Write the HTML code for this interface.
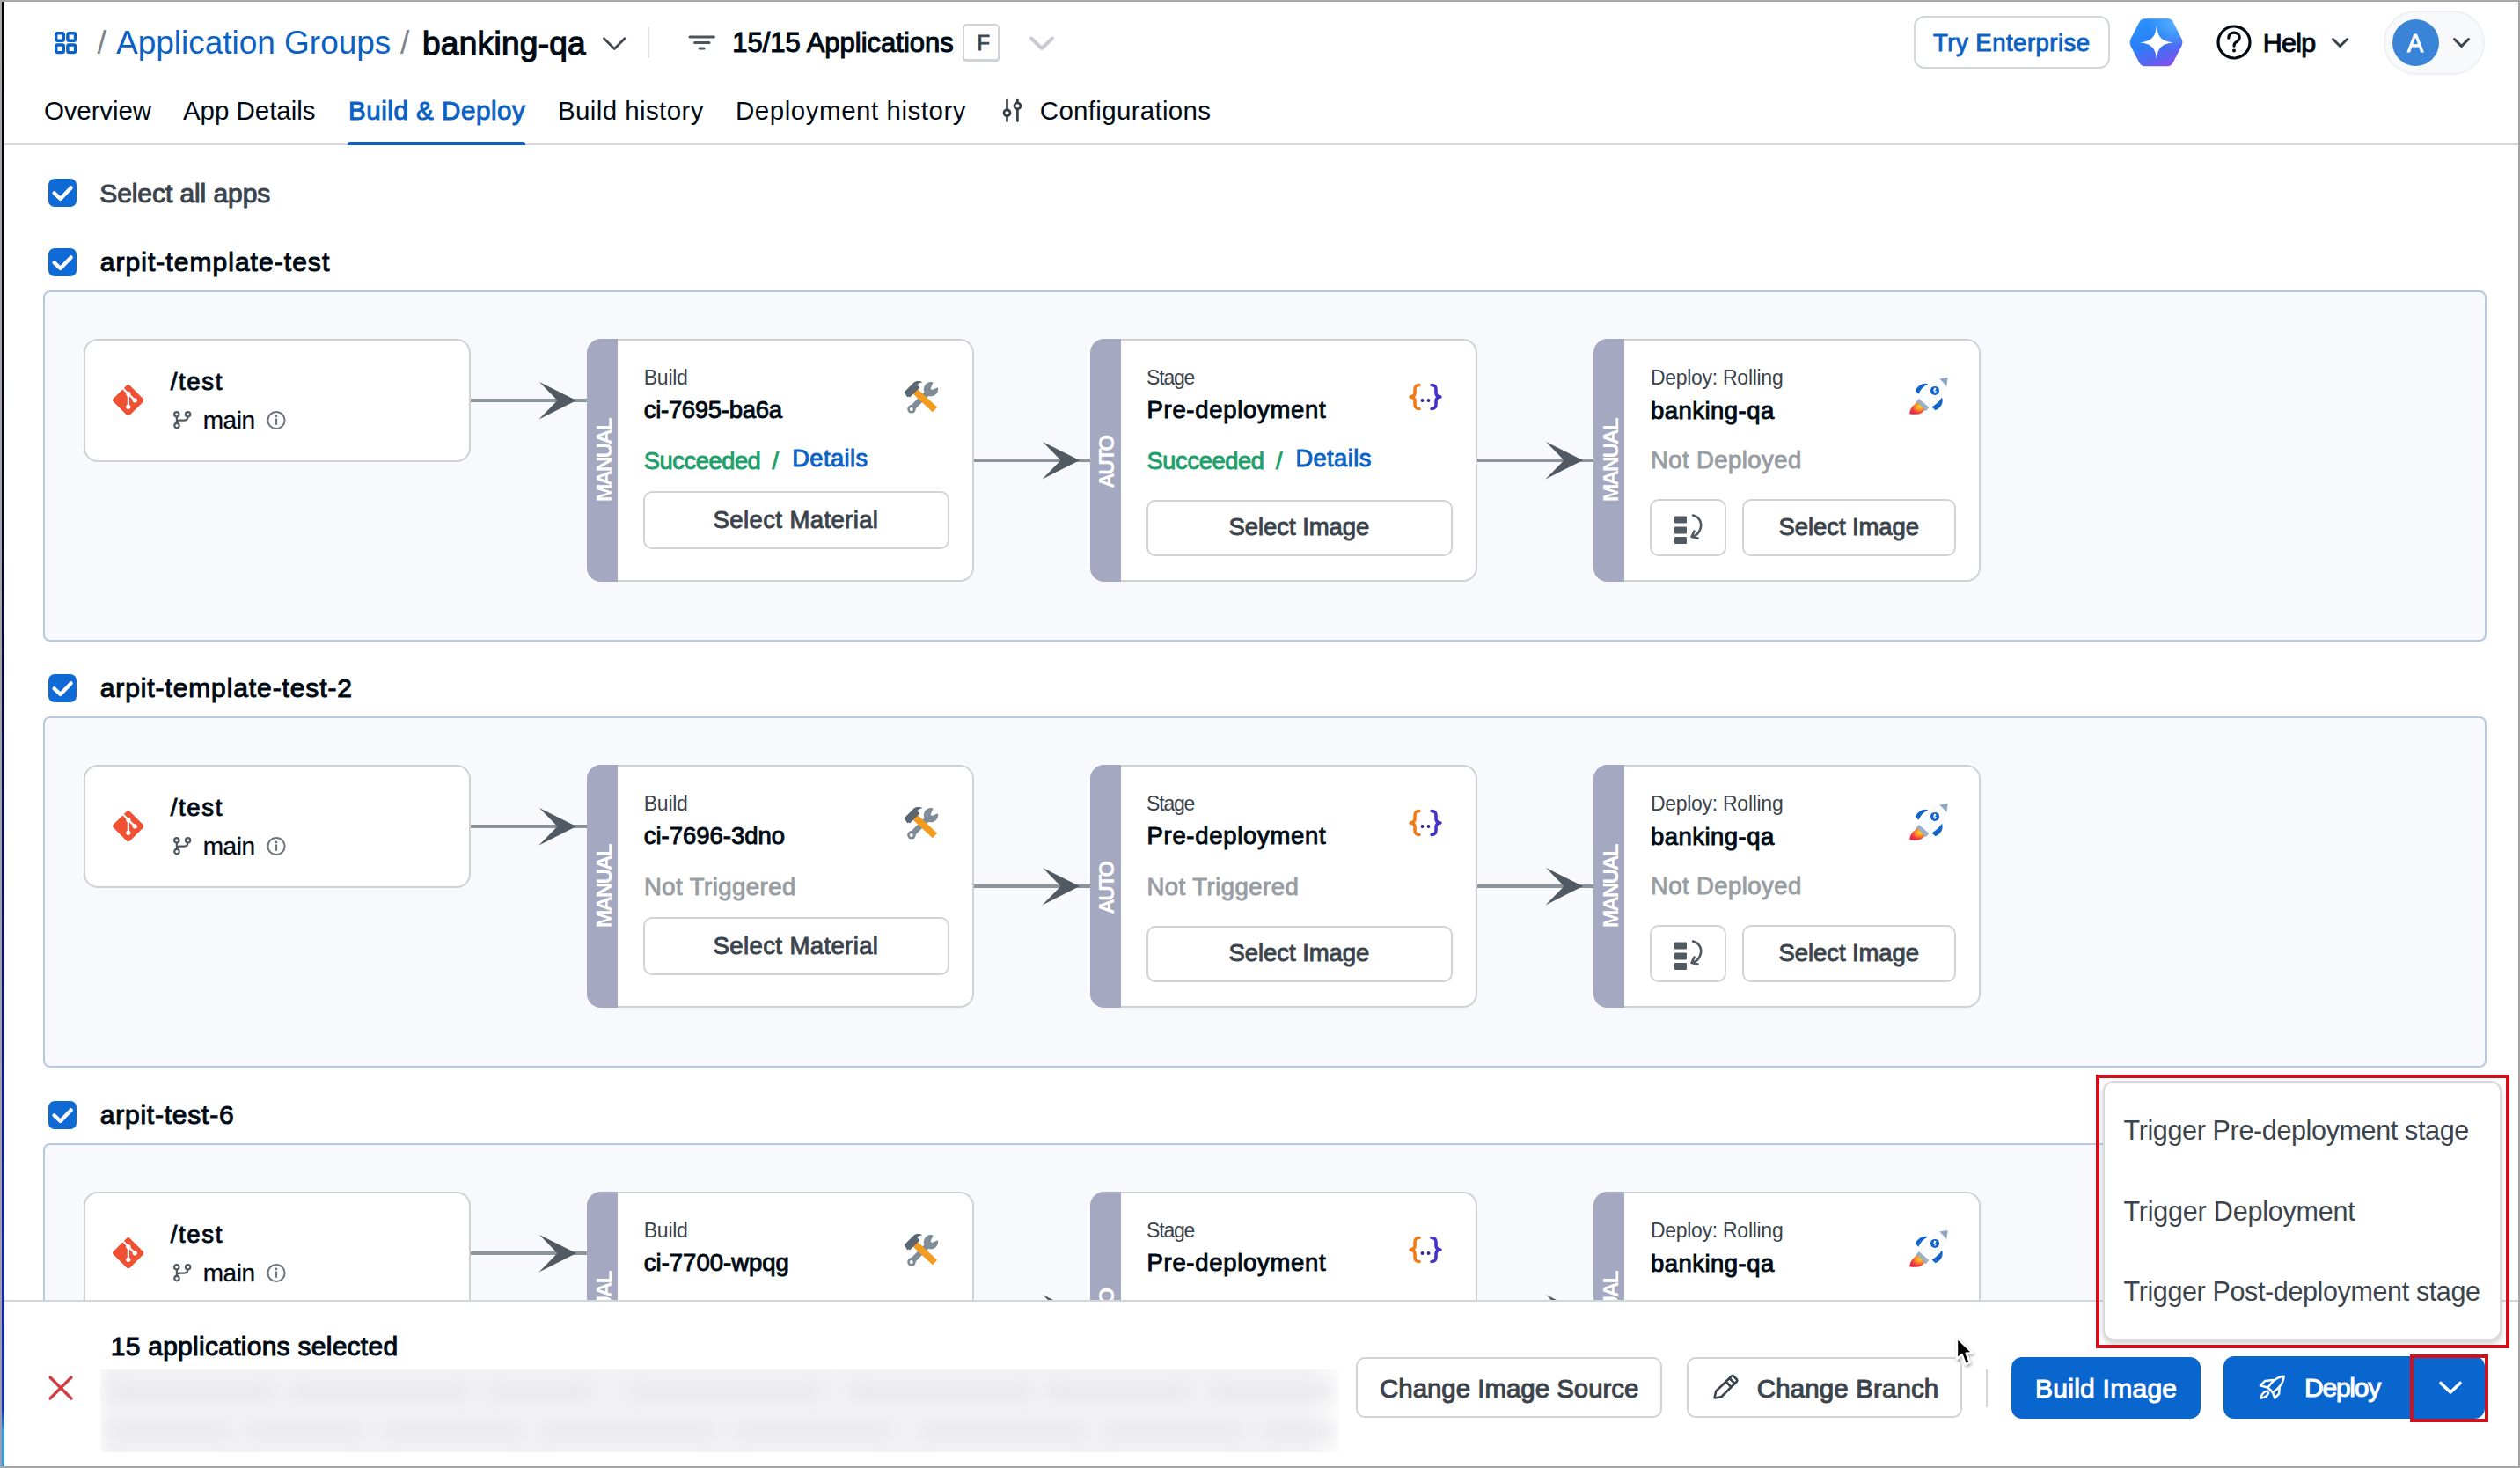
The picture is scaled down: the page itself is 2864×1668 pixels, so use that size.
<!DOCTYPE html>
<html><head><meta charset="utf-8"><title>Build &amp; Deploy</title>
<style>
html,body{margin:0;padding:0}
body{width:2864px;height:1668px;position:relative;overflow:hidden;background:#fff;font-family:"Liberation Sans",sans-serif}
.t{position:absolute;white-space:nowrap;line-height:1}
</style></head><body>
<svg style="position:absolute;left:60.0px;top:34.0px;" width="30" height="30" viewBox="0 0 30 30"><g fill="none" stroke="#0b62c4" stroke-width="3.4"><rect x="3.7" y="3.7" width="8.6" height="8.6" rx="1.6"/><rect x="16.9" y="3.7" width="8.6" height="8.6" rx="1.6"/><rect x="3.7" y="17" width="8.6" height="8.6" rx="1.6"/><rect x="16.9" y="17" width="8.6" height="8.6" rx="1.6"/></g></svg>
<div class="t" style="left:110.50px;top:30.37px;font-size:37.00px;letter-spacing:0.000px;font-weight:400;color:#7e848b;">/</div>
<div class="t" style="left:132.10px;top:30.37px;font-size:37.00px;letter-spacing:-0.024px;font-weight:400;color:#0b62c4;">Application Groups</div>
<div class="t" style="left:455.00px;top:30.37px;font-size:37.00px;letter-spacing:0.000px;font-weight:400;color:#7e848b;">/</div>
<div class="t" style="left:480.00px;top:30.77px;font-size:37.00px;letter-spacing:0.289px;font-weight:400;color:#000a14;-webkit-text-stroke:1.26px #000a14;">banking-qa</div>
<svg style="position:absolute;left:682.0px;top:38.0px;" width="32" height="22" viewBox="0 0 32 22"><polyline points="4.5,5.7 16.3,17.5 28,5.7" fill="none" stroke="#40474f" stroke-width="2.7" stroke-linecap="round" stroke-linejoin="round"/></svg>
<div style="position:absolute;left:736.0px;top:31.0px;width:2.0px;height:34.5px;box-sizing:border-box;background:#d9dadc"></div>
<svg style="position:absolute;left:780.0px;top:38.0px;" width="36" height="22" viewBox="0 0 36 22"><g stroke="#4b535b" stroke-width="3" stroke-linecap="round"><line x1="4" y1="4" x2="31.3" y2="4"/><line x1="9.6" y1="10.6" x2="26" y2="10.6"/><line x1="15" y1="17" x2="20.2" y2="17"/></g></svg>
<div class="t" style="left:832.20px;top:32.55px;font-size:31.00px;letter-spacing:-0.000px;font-weight:400;color:#000a14;-webkit-text-stroke:1.05px #000a14;">15/15 Applications</div>
<div style="position:absolute;left:1094.0px;top:27.0px;width:42.0px;height:44.0px;box-sizing:border-box;border:2px solid #d0d4d9;border-bottom-width:4px;border-radius:5px;background:#fff"></div>
<div class="t" style="left:1110.50px;top:37.35px;font-size:23.80px;letter-spacing:0.000px;font-weight:400;color:#3b444c;-webkit-text-stroke:0.81px #3b444c;">F</div>
<svg style="position:absolute;left:1168.0px;top:38.0px;" width="32" height="22" viewBox="0 0 32 22"><polyline points="4,5.5 16,17 28,5.5" fill="none" stroke="#c8ccd1" stroke-width="4" stroke-linecap="round" stroke-linejoin="round"/></svg>
<div style="position:absolute;left:2175.0px;top:18.0px;width:223.0px;height:60.0px;box-sizing:border-box;border:2px solid #d3d6da;border-radius:12px;background:#fff"></div>
<div class="t" style="left:2197.00px;top:34.62px;font-size:27.50px;letter-spacing:0.500px;font-weight:400;color:#0b62c4;-webkit-text-stroke:0.94px #0b62c4;">Try Enterprise</div>
<svg style="position:absolute;left:2418.0px;top:20.0px;" width="66" height="58" viewBox="0 0 66 58"><defs><linearGradient id="hg" x1="0.25" y1="0" x2="0.75" y2="1"><stop offset="0" stop-color="#2a93ff"/><stop offset="0.45" stop-color="#2a7ef6"/><stop offset="0.8" stop-color="#5b63f2"/><stop offset="1" stop-color="#8a4cf0"/></linearGradient><radialGradient id="hg2" cx="0.85" cy="0.1" r="0.5"><stop offset="0" stop-color="#5ab4ff" stop-opacity="0.9"/><stop offset="1" stop-color="#5ab4ff" stop-opacity="0"/></radialGradient></defs><path d="M19.5,1.3 L45.5,1.3 Q49.5,1.3 51.5,5 L61.6,24.6 Q63.4,28.3 61.6,32 L51.5,51.6 Q49.5,55.3 45.5,55.3 L19.5,55.3 Q15.5,55.3 13.5,51.6 L3.4,32 Q1.6,28.3 3.4,24.6 L13.5,5 Q15.5,1.3 19.5,1.3 Z" fill="url(#hg)"/><path d="M19.5,1.3 L45.5,1.3 Q49.5,1.3 51.5,5 L61.6,24.6 Q63.4,28.3 61.6,32 L51.5,51.6 Q49.5,55.3 45.5,55.3 L19.5,55.3 Q15.5,55.3 13.5,51.6 L3.4,32 Q1.6,28.3 3.4,24.6 L13.5,5 Q15.5,1.3 19.5,1.3 Z" fill="url(#hg2)"/><path d="M33,9 C34.4,21.5 37.5,26.4 52,28.3 C37.5,30.2 34.4,35.2 33,47.6 C31.6,35.2 28.5,30.2 14,28.3 C28.5,26.4 31.6,21.5 33,9 Z" fill="#fff"/></svg>
<svg style="position:absolute;left:2517.0px;top:26.0px;" width="44" height="44" viewBox="0 0 44 44"><circle cx="22" cy="22" r="18" fill="none" stroke="#000a14" stroke-width="3.2"/><path d="M15.8,17.2 C15.8,13.3 18.6,11.2 22,11.2 C25.6,11.2 28.2,13.4 28.2,16.6 C28.2,19.6 26,20.8 24.2,22 C22.6,23 22,24 22,26.2" fill="none" stroke="#000a14" stroke-width="3.2" stroke-linecap="round"/><circle cx="22" cy="31.6" r="2" fill="#000a14"/></svg>
<div class="t" style="left:2571.80px;top:33.36px;font-size:30.40px;letter-spacing:-0.700px;font-weight:400;color:#000a14;-webkit-text-stroke:1.03px #000a14;">Help</div>
<svg style="position:absolute;left:2648.0px;top:40.0px;" width="24" height="18" viewBox="0 0 24 18"><polyline points="3.5,4.5 11.5,12.5 19.5,4.5" fill="none" stroke="#3b444c" stroke-width="3" stroke-linecap="round" stroke-linejoin="round"/></svg>
<div style="position:absolute;left:2709.0px;top:12.0px;width:115.0px;height:73.0px;box-sizing:border-box;border:2px solid #eef0f3;border-radius:37px;background:#f8f9fb"></div>
<div style="position:absolute;left:2719px;top:22px;width:53px;height:53px;border-radius:50%;background:#3a84d8"></div>
<div class="t" style="left:2736.40px;top:33.36px;font-size:30.40px;letter-spacing:0.000px;font-weight:400;color:#fff;-webkit-text-stroke:1.03px #fff;transform:scaleX(0.9);transform-origin:0 0;">A</div>
<svg style="position:absolute;left:2786.0px;top:40.0px;" width="24" height="18" viewBox="0 0 24 18"><polyline points="3.5,4.5 11.5,12.5 19.5,4.5" fill="none" stroke="#3b444c" stroke-width="3" stroke-linecap="round" stroke-linejoin="round"/></svg>
<div class="t" style="left:49.90px;top:110.72px;font-size:29.50px;letter-spacing:-0.114px;font-weight:400;color:#000a14;">Overview</div>
<div class="t" style="left:207.90px;top:110.72px;font-size:29.50px;letter-spacing:-0.020px;font-weight:400;color:#000a14;">App Details</div>
<div class="t" style="left:396.00px;top:110.72px;font-size:29.50px;letter-spacing:0.554px;font-weight:400;color:#0b62c4;-webkit-text-stroke:1.00px #0b62c4;">Build &amp; Deploy</div>
<div class="t" style="left:633.90px;top:110.72px;font-size:29.50px;letter-spacing:0.408px;font-weight:400;color:#000a14;">Build history</div>
<div class="t" style="left:836.00px;top:110.72px;font-size:29.50px;letter-spacing:0.535px;font-weight:400;color:#000a14;">Deployment history</div>
<svg style="position:absolute;left:1138.0px;top:110.0px;" width="26" height="30" viewBox="0 0 26 30"><g stroke="#363f47" stroke-width="2.7" stroke-linecap="round" fill="none"><line x1="6.5" y1="3.2" x2="6.5" y2="14.8"/><line x1="6.5" y1="21.8" x2="6.5" y2="27.6"/><circle cx="6.5" cy="18.3" r="3.5"/><line x1="18.4" y1="3.2" x2="18.4" y2="6.9"/><line x1="18.4" y1="13.9" x2="18.4" y2="27.6"/><circle cx="18.4" cy="10.4" r="3.5"/></g></svg>
<div class="t" style="left:1181.80px;top:110.72px;font-size:29.50px;letter-spacing:0.308px;font-weight:400;color:#000a14;">Configurations</div>
<div style="position:absolute;left:0.0px;top:163.0px;width:2864.0px;height:2.0px;box-sizing:border-box;background:#d3d6da"></div>
<div style="position:absolute;left:395.0px;top:161.0px;width:202.0px;height:4.0px;box-sizing:border-box;background:#0b62c4;border-radius:3px 3px 0 0"></div>
<div style="position:absolute;left:55px;top:203px;width:32px;height:32px;border-radius:7px;background:#0f6ad6"></div>
<svg style="position:absolute;left:55.0px;top:203.0px;" width="32" height="32" viewBox="0 0 32 32"><polyline points="6.6,16.4 13.6,22.9 25.6,10.4" fill="none" stroke="#fff" stroke-width="4.3" stroke-linecap="round" stroke-linejoin="round"/></svg>
<div class="t" style="left:113.20px;top:204.50px;font-size:30.00px;letter-spacing:-0.071px;font-weight:400;color:#3b444c;-webkit-text-stroke:1.02px #3b444c;">Select all apps</div>
<div style="position:absolute;left:55px;top:282px;width:32px;height:32px;border-radius:7px;background:#0f6ad6"></div>
<svg style="position:absolute;left:55.0px;top:282.0px;" width="32" height="32" viewBox="0 0 32 32"><polyline points="6.6,16.4 13.6,22.9 25.6,10.4" fill="none" stroke="#fff" stroke-width="4.3" stroke-linecap="round" stroke-linejoin="round"/></svg>
<div class="t" style="left:113.70px;top:283.30px;font-size:30.00px;letter-spacing:1.044px;font-weight:400;color:#000a14;-webkit-text-stroke:1.02px #000a14;">arpit-template-test</div>
<div style="position:absolute;left:49.0px;top:330.0px;width:2777.0px;height:399.0px;box-sizing:border-box;border:2px solid #b7c9e0;border-radius:8px;background:#f8f9fc"></div>
<div style="position:absolute;left:95.0px;top:385.0px;width:440.0px;height:140.0px;box-sizing:border-box;border:2px solid #d0d1d4;border-radius:16px;background:#fff"></div>
<svg style="position:absolute;left:127.5px;top:436.8px;" width="35.5" height="35.5" viewBox="0 0 24 24"><path fill="#f05133" d="M23.546 10.93L13.067.452c-.604-.603-1.582-.603-2.188 0L8.708 2.627l2.76 2.76c.645-.215 1.379-.07 1.889.441.516.515.658 1.258.438 1.9l2.658 2.66c.645-.223 1.387-.078 1.9.435.721.72.721 1.884 0 2.604-.719.719-1.881.719-2.6 0-.539-.541-.674-1.337-.404-1.996L12.86 8.955v6.525c.176.086.342.203.488.348.713.721.713 1.883 0 2.6-.719.721-1.889.721-2.609 0-.719-.719-.719-1.879 0-2.598.182-.18.387-.316.605-.406V8.835c-.217-.091-.424-.222-.6-.401-.545-.545-.676-1.342-.396-2.009L7.636 3.7.45 10.881c-.6.605-.6 1.584 0 2.189l10.48 10.477c.604.604 1.582.604 2.186 0l10.43-10.43c.605-.603.605-1.582 0-2.187"/></svg>
<div class="t" style="left:193.70px;top:419.52px;font-size:27.50px;letter-spacing:1.675px;font-weight:400;color:#000a14;-webkit-text-stroke:0.94px #000a14;">/test</div>
<svg style="position:absolute;left:195.0px;top:465.0px;" width="25" height="25" viewBox="0 0 25 25"><g fill="none" stroke="#515963" stroke-width="2.2" stroke-linecap="round"><circle cx="5.8" cy="5.8" r="2.7"/><circle cx="18.6" cy="5.8" r="2.7"/><circle cx="6" cy="18.6" r="2.7"/><line x1="5.9" y1="8.5" x2="5.9" y2="15.9"/><path d="M18.4,8.5 C18.4,11.2 17.2,12.6 14.4,12.6 L9.6,12.6 C7.4,12.6 6,13.2 5.9,14.6"/></g></svg>
<div class="t" style="left:230.80px;top:463.69px;font-size:28.00px;letter-spacing:-0.500px;font-weight:400;color:#000a14;-webkit-text-stroke:0.3px #000a14;">main</div>
<svg style="position:absolute;left:302.0px;top:466.0px;" width="24" height="24" viewBox="0 0 24 24"><circle cx="12" cy="11.5" r="9.6" fill="none" stroke="#6e757c" stroke-width="2"/><line x1="12" y1="10.3" x2="12" y2="16" stroke="#6e757c" stroke-width="2.2" stroke-linecap="round"/><circle cx="12" cy="6.9" r="1.4" fill="#6e757c"/></svg>
<div style="position:absolute;left:535.0px;top:453.0px;width:132.0px;height:4.0px;box-sizing:border-box;background:#8d939b"></div>
<svg style="position:absolute;left:611.0px;top:433.0px;" width="46" height="44" viewBox="0 0 46 44"><path d="M44,22 L2,1 L22.5,22 L1.5,43.5 Z" fill="#515963"/></svg>
<div style="position:absolute;left:667.0px;top:385.0px;width:440.0px;height:276.0px;box-sizing:border-box;border:2px solid #d0d1d4;border-radius:16px;background:#fff"></div>
<div style="position:absolute;left:667px;top:385px;width:35px;height:276px;background:#a5a8c1;border-radius:16px 0 0 16px"></div>
<div class="t" style="left:638.50px;top:510.40px;width:95.60px;height:24.40px;font-size:24.40px;letter-spacing:-2.020px;font-weight:700;color:#fff;text-align:left;transform:rotate(-90deg);transform-origin:center center;line-height:23.67px">MANUAL</div>
<div class="t" style="left:731.80px;top:417.53px;font-size:23.00px;letter-spacing:-0.275px;font-weight:400;color:#3b444c;">Build</div>
<div class="t" style="left:731.80px;top:452.12px;font-size:27.50px;letter-spacing:-0.309px;font-weight:400;color:#000a14;-webkit-text-stroke:0.94px #000a14;">ci-7695-ba6a</div>
<svg style="position:absolute;left:1020.0px;top:425.0px;" width="55" height="50" viewBox="0 0 55 50"><g stroke-linecap="round"><line x1="16.5" y1="39" x2="36" y2="19.5" stroke="#7f8c98" stroke-width="6.6"/><circle cx="16" cy="39.8" r="4.8" fill="#7f8c98"/><circle cx="15.8" cy="40" r="1.9" fill="#fff"/><circle cx="38" cy="17.2" r="8.2" fill="#7f8c98"/><path d="M37.6,16.6 L41.5,7.2 L48.5,14.2 L39,18 Z" fill="#fff"/><line x1="19.8" y1="19.4" x2="42.5" y2="40.5" stroke="#f39b1f" stroke-width="7.6" stroke-linecap="butt"/><path d="M7.6,20.6 L19.2,9 C21.5,7.6 25.5,7.4 28.6,9.2 C25.6,9.6 23.8,10.6 22.6,12.4 L25.4,15.2 L14,26.6 L12.8,25.4 L11.2,26.2 Z" fill="#5a6773"/></g></svg>
<div class="t" style="left:731.80px;top:509.59px;font-size:27.30px;letter-spacing:-0.450px;font-weight:400;color:#21a06c;-webkit-text-stroke:0.93px #21a06c;">Succeeded</div>
<div class="t" style="left:877.60px;top:509.59px;font-size:27.30px;letter-spacing:0.000px;font-weight:400;color:#21a06c;-webkit-text-stroke:0.93px #21a06c;">/</div>
<div class="t" style="left:900.20px;top:506.59px;font-size:27.30px;letter-spacing:0.433px;font-weight:400;color:#0b62c4;-webkit-text-stroke:0.93px #0b62c4;">Details</div>
<div style="position:absolute;left:731.0px;top:558.0px;width:348.0px;height:66.0px;box-sizing:border-box;border:2px solid #d2d3d5;border-radius:10px;background:#fff"></div>
<div class="t" style="left:810.60px;top:577.32px;font-size:27.50px;letter-spacing:0.393px;font-weight:400;color:#3b444c;-webkit-text-stroke:0.94px #3b444c;">Select Material</div>
<div style="position:absolute;left:1107.0px;top:521.0px;width:132.0px;height:4.0px;box-sizing:border-box;background:#8d939b"></div>
<svg style="position:absolute;left:1183.0px;top:501.0px;" width="46" height="44" viewBox="0 0 46 44"><path d="M44,22 L2,1 L22.5,22 L1.5,43.5 Z" fill="#515963"/></svg>
<div style="position:absolute;left:1239.0px;top:385.0px;width:440.0px;height:276.0px;box-sizing:border-box;border:2px solid #d0d1d4;border-radius:16px;background:#fff"></div>
<div style="position:absolute;left:1239px;top:385px;width:35px;height:276px;background:#a5a8c1;border-radius:16px 0 0 16px"></div>
<div class="t" style="left:1227.80px;top:511.80px;width:61.00px;height:24.40px;font-size:24.40px;letter-spacing:-2.567px;font-weight:700;color:#fff;text-align:left;transform:rotate(-90deg);transform-origin:center center;line-height:23.67px">AUTO</div>
<div class="t" style="left:1303.00px;top:417.63px;font-size:23.00px;letter-spacing:-1.175px;font-weight:400;color:#3b444c;">Stage</div>
<div class="t" style="left:1303.50px;top:452.32px;font-size:27.50px;letter-spacing:0.692px;font-weight:400;color:#000a14;-webkit-text-stroke:0.94px #000a14;">Pre-deployment</div>
<svg style="position:absolute;left:1600.0px;top:435.0px;" width="40" height="32" viewBox="0 0 40 32"><path d="M13,2.5 C8.5,2.5 8,4.5 8,8 L8,11.5 C8,14 6.5,15.5 3,16 C6.5,16.5 8,18 8,20.5 L8,24 C8,27.5 8.5,29.5 13,29.5" fill="none" stroke="#f07a18" stroke-width="3.6" stroke-linecap="round" stroke-linejoin="round"/><path d="M27,2.5 C31.5,2.5 32,4.5 32,8 L32,11.5 C32,14 33.5,15.5 37,16 C33.5,16.5 32,18 32,20.5 L32,24 C32,27.5 31.5,29.5 27,29.5" fill="none" stroke="#4234c8" stroke-width="3.6" stroke-linecap="round" stroke-linejoin="round"/><circle cx="16.5" cy="20" r="1.9" fill="#2d2594"/><circle cx="23.5" cy="20" r="1.9" fill="#2d2594"/></svg>
<div class="t" style="left:1303.50px;top:509.59px;font-size:27.30px;letter-spacing:-0.387px;font-weight:400;color:#21a06c;-webkit-text-stroke:0.93px #21a06c;">Succeeded</div>
<div class="t" style="left:1450.00px;top:509.59px;font-size:27.30px;letter-spacing:0.000px;font-weight:400;color:#21a06c;-webkit-text-stroke:0.93px #21a06c;">/</div>
<div class="t" style="left:1472.40px;top:506.59px;font-size:27.30px;letter-spacing:0.417px;font-weight:400;color:#0b62c4;-webkit-text-stroke:0.93px #0b62c4;">Details</div>
<div style="position:absolute;left:1303.0px;top:568.0px;width:348.0px;height:64.0px;box-sizing:border-box;border:2px solid #d2d3d5;border-radius:10px;background:#fff"></div>
<div class="t" style="left:1396.40px;top:585.42px;font-size:27.50px;letter-spacing:-0.045px;font-weight:400;color:#3b444c;-webkit-text-stroke:0.94px #3b444c;">Select Image</div>
<div style="position:absolute;left:1679.0px;top:521.0px;width:132.0px;height:4.0px;box-sizing:border-box;background:#8d939b"></div>
<svg style="position:absolute;left:1755.0px;top:501.0px;" width="46" height="44" viewBox="0 0 46 44"><path d="M44,22 L2,1 L22.5,22 L1.5,43.5 Z" fill="#515963"/></svg>
<div style="position:absolute;left:1811.0px;top:385.0px;width:440.0px;height:276.0px;box-sizing:border-box;border:2px solid #d0d1d4;border-radius:16px;background:#fff"></div>
<div style="position:absolute;left:1811px;top:385px;width:35px;height:276px;background:#a5a8c1;border-radius:16px 0 0 16px"></div>
<div class="t" style="left:1782.50px;top:510.40px;width:95.60px;height:24.40px;font-size:24.40px;letter-spacing:-2.020px;font-weight:700;color:#fff;text-align:left;transform:rotate(-90deg);transform-origin:center center;line-height:23.67px">MANUAL</div>
<div class="t" style="left:1875.90px;top:417.83px;font-size:23.00px;letter-spacing:-0.279px;font-weight:400;color:#3b444c;">Deploy: Rolling</div>
<div class="t" style="left:1875.90px;top:452.92px;font-size:27.50px;letter-spacing:0.478px;font-weight:400;color:#000a14;-webkit-text-stroke:0.94px #000a14;">banking-qa</div>
<svg style="position:absolute;left:2160.0px;top:420.0px;" width="65" height="60" viewBox="0 0 65 60"><defs><radialGradient id="fl" cx="0.68" cy="0.35" r="0.7"><stop offset="0" stop-color="#ffd21f"/><stop offset="0.35" stop-color="#ff9a2a"/><stop offset="0.7" stop-color="#f0463f"/><stop offset="1" stop-color="#e42a48"/></radialGradient></defs><path d="M20,36 C24,27 33,17 44.5,10.5 L53.6,9 L52.3,18.8 C46,30 36,39 27.5,43 Z" fill="#fbfcfd" stroke="#e9edf2" stroke-width="0.8"/><path d="M44.4,10.6 L53.6,9 L52.3,18.8 Z" fill="#8ea7c3"/><circle cx="39" cy="23.9" r="5" fill="#1162c9"/><path d="M38.2,20.6 L40.6,21.2 L39.2,24 L41.2,24.6 L38.4,27.6 L38.8,24.8 L37,24.4 Z" fill="#eaf3ff"/><path d="M16.8,23.7 C20.5,17.5 25.5,14.6 31.5,16.4 C26.5,18.2 23,22.2 20.4,27.8 Z" fill="#1565c8"/><path d="M35.6,42.5 C41,38.6 45,35.5 47,31.5 C49,37.5 46.5,43 39.6,46.2 Z" fill="#1565c8"/><line x1="19" y1="35" x2="30.5" y2="45.2" stroke="#9dafc2" stroke-width="5.6"/><path d="M10.2,50.3 C10.8,44.5 13.5,40.2 19.2,37.4 L27.4,45.4 C24.8,50 19.5,51.8 10.2,50.3 Z" fill="url(#fl)"/></svg>
<div class="t" style="left:1875.90px;top:509.22px;font-size:27.50px;letter-spacing:0.436px;font-weight:400;color:#989ea4;-webkit-text-stroke:0.94px #989ea4;">Not Deployed</div>
<div style="position:absolute;left:1875.0px;top:567.0px;width:87.0px;height:65.0px;box-sizing:border-box;border:2px solid #d2d3d5;border-radius:10px;background:#fff"></div>
<svg style="position:absolute;left:1900.0px;top:582.0px;" width="40" height="38" viewBox="0 0 40 38"><g fill="#515963"><rect x="3" y="4.5" width="14" height="8" rx="1.2"/><rect x="3" y="16.5" width="14" height="8" rx="1.2"/><rect x="3" y="28" width="14" height="8" rx="1.2"/></g><path d="M24,3.5 C32,5.5 35,13 32,20 C30.5,24 27.5,26.5 24,27.5" fill="none" stroke="#515963" stroke-width="2.6" stroke-linecap="round"/><path d="M29.5,29.5 L22.5,28 L25.5,21.5" fill="none" stroke="#515963" stroke-width="2.6" stroke-linecap="round" stroke-linejoin="round"/></svg>
<div style="position:absolute;left:1980.0px;top:567.0px;width:243.0px;height:65.0px;box-sizing:border-box;border:2px solid #d2d3d5;border-radius:10px;background:#fff"></div>
<div class="t" style="left:2021.60px;top:585.42px;font-size:27.50px;letter-spacing:-0.100px;font-weight:400;color:#3b444c;-webkit-text-stroke:0.94px #3b444c;">Select Image</div>
<div style="position:absolute;left:55px;top:766px;width:32px;height:32px;border-radius:7px;background:#0f6ad6"></div>
<svg style="position:absolute;left:55.0px;top:766.0px;" width="32" height="32" viewBox="0 0 32 32"><polyline points="6.6,16.4 13.6,22.9 25.6,10.4" fill="none" stroke="#fff" stroke-width="4.3" stroke-linecap="round" stroke-linejoin="round"/></svg>
<div class="t" style="left:113.70px;top:767.30px;font-size:30.00px;letter-spacing:0.895px;font-weight:400;color:#000a14;-webkit-text-stroke:1.02px #000a14;">arpit-template-test-2</div>
<div style="position:absolute;left:49.0px;top:814.0px;width:2777.0px;height:399.0px;box-sizing:border-box;border:2px solid #b7c9e0;border-radius:8px;background:#f8f9fc"></div>
<div style="position:absolute;left:95.0px;top:869.0px;width:440.0px;height:140.0px;box-sizing:border-box;border:2px solid #d0d1d4;border-radius:16px;background:#fff"></div>
<svg style="position:absolute;left:127.5px;top:920.8px;" width="35.5" height="35.5" viewBox="0 0 24 24"><path fill="#f05133" d="M23.546 10.93L13.067.452c-.604-.603-1.582-.603-2.188 0L8.708 2.627l2.76 2.76c.645-.215 1.379-.07 1.889.441.516.515.658 1.258.438 1.9l2.658 2.66c.645-.223 1.387-.078 1.9.435.721.72.721 1.884 0 2.604-.719.719-1.881.719-2.6 0-.539-.541-.674-1.337-.404-1.996L12.86 8.955v6.525c.176.086.342.203.488.348.713.721.713 1.883 0 2.6-.719.721-1.889.721-2.609 0-.719-.719-.719-1.879 0-2.598.182-.18.387-.316.605-.406V8.835c-.217-.091-.424-.222-.6-.401-.545-.545-.676-1.342-.396-2.009L7.636 3.7.45 10.881c-.6.605-.6 1.584 0 2.189l10.48 10.477c.604.604 1.582.604 2.186 0l10.43-10.43c.605-.603.605-1.582 0-2.187"/></svg>
<div class="t" style="left:193.70px;top:903.52px;font-size:27.50px;letter-spacing:1.675px;font-weight:400;color:#000a14;-webkit-text-stroke:0.94px #000a14;">/test</div>
<svg style="position:absolute;left:195.0px;top:949.0px;" width="25" height="25" viewBox="0 0 25 25"><g fill="none" stroke="#515963" stroke-width="2.2" stroke-linecap="round"><circle cx="5.8" cy="5.8" r="2.7"/><circle cx="18.6" cy="5.8" r="2.7"/><circle cx="6" cy="18.6" r="2.7"/><line x1="5.9" y1="8.5" x2="5.9" y2="15.9"/><path d="M18.4,8.5 C18.4,11.2 17.2,12.6 14.4,12.6 L9.6,12.6 C7.4,12.6 6,13.2 5.9,14.6"/></g></svg>
<div class="t" style="left:230.80px;top:947.69px;font-size:28.00px;letter-spacing:-0.500px;font-weight:400;color:#000a14;-webkit-text-stroke:0.3px #000a14;">main</div>
<svg style="position:absolute;left:302.0px;top:950.0px;" width="24" height="24" viewBox="0 0 24 24"><circle cx="12" cy="11.5" r="9.6" fill="none" stroke="#6e757c" stroke-width="2"/><line x1="12" y1="10.3" x2="12" y2="16" stroke="#6e757c" stroke-width="2.2" stroke-linecap="round"/><circle cx="12" cy="6.9" r="1.4" fill="#6e757c"/></svg>
<div style="position:absolute;left:535.0px;top:937.0px;width:132.0px;height:4.0px;box-sizing:border-box;background:#8d939b"></div>
<svg style="position:absolute;left:611.0px;top:917.0px;" width="46" height="44" viewBox="0 0 46 44"><path d="M44,22 L2,1 L22.5,22 L1.5,43.5 Z" fill="#515963"/></svg>
<div style="position:absolute;left:667.0px;top:869.0px;width:440.0px;height:276.0px;box-sizing:border-box;border:2px solid #d0d1d4;border-radius:16px;background:#fff"></div>
<div style="position:absolute;left:667px;top:869px;width:35px;height:276px;background:#a5a8c1;border-radius:16px 0 0 16px"></div>
<div class="t" style="left:638.50px;top:994.40px;width:95.60px;height:24.40px;font-size:24.40px;letter-spacing:-2.020px;font-weight:700;color:#fff;text-align:left;transform:rotate(-90deg);transform-origin:center center;line-height:23.67px">MANUAL</div>
<div class="t" style="left:731.80px;top:901.53px;font-size:23.00px;letter-spacing:-0.275px;font-weight:400;color:#3b444c;">Build</div>
<div class="t" style="left:731.80px;top:936.12px;font-size:27.50px;letter-spacing:-0.027px;font-weight:400;color:#000a14;-webkit-text-stroke:0.94px #000a14;">ci-7696-3dno</div>
<svg style="position:absolute;left:1020.0px;top:909.0px;" width="55" height="50" viewBox="0 0 55 50"><g stroke-linecap="round"><line x1="16.5" y1="39" x2="36" y2="19.5" stroke="#7f8c98" stroke-width="6.6"/><circle cx="16" cy="39.8" r="4.8" fill="#7f8c98"/><circle cx="15.8" cy="40" r="1.9" fill="#fff"/><circle cx="38" cy="17.2" r="8.2" fill="#7f8c98"/><path d="M37.6,16.6 L41.5,7.2 L48.5,14.2 L39,18 Z" fill="#fff"/><line x1="19.8" y1="19.4" x2="42.5" y2="40.5" stroke="#f39b1f" stroke-width="7.6" stroke-linecap="butt"/><path d="M7.6,20.6 L19.2,9 C21.5,7.6 25.5,7.4 28.6,9.2 C25.6,9.6 23.8,10.6 22.6,12.4 L25.4,15.2 L14,26.6 L12.8,25.4 L11.2,26.2 Z" fill="#5a6773"/></g></svg>
<div class="t" style="left:732.00px;top:993.72px;font-size:27.50px;letter-spacing:0.475px;font-weight:400;color:#989ea4;-webkit-text-stroke:0.94px #989ea4;">Not Triggered</div>
<div style="position:absolute;left:731.0px;top:1042.0px;width:348.0px;height:66.0px;box-sizing:border-box;border:2px solid #d2d3d5;border-radius:10px;background:#fff"></div>
<div class="t" style="left:810.60px;top:1061.32px;font-size:27.50px;letter-spacing:0.393px;font-weight:400;color:#3b444c;-webkit-text-stroke:0.94px #3b444c;">Select Material</div>
<div style="position:absolute;left:1107.0px;top:1005.0px;width:132.0px;height:4.0px;box-sizing:border-box;background:#8d939b"></div>
<svg style="position:absolute;left:1183.0px;top:985.0px;" width="46" height="44" viewBox="0 0 46 44"><path d="M44,22 L2,1 L22.5,22 L1.5,43.5 Z" fill="#515963"/></svg>
<div style="position:absolute;left:1239.0px;top:869.0px;width:440.0px;height:276.0px;box-sizing:border-box;border:2px solid #d0d1d4;border-radius:16px;background:#fff"></div>
<div style="position:absolute;left:1239px;top:869px;width:35px;height:276px;background:#a5a8c1;border-radius:16px 0 0 16px"></div>
<div class="t" style="left:1227.80px;top:995.80px;width:61.00px;height:24.40px;font-size:24.40px;letter-spacing:-2.567px;font-weight:700;color:#fff;text-align:left;transform:rotate(-90deg);transform-origin:center center;line-height:23.67px">AUTO</div>
<div class="t" style="left:1303.00px;top:901.63px;font-size:23.00px;letter-spacing:-1.175px;font-weight:400;color:#3b444c;">Stage</div>
<div class="t" style="left:1303.50px;top:936.32px;font-size:27.50px;letter-spacing:0.692px;font-weight:400;color:#000a14;-webkit-text-stroke:0.94px #000a14;">Pre-deployment</div>
<svg style="position:absolute;left:1600.0px;top:919.0px;" width="40" height="32" viewBox="0 0 40 32"><path d="M13,2.5 C8.5,2.5 8,4.5 8,8 L8,11.5 C8,14 6.5,15.5 3,16 C6.5,16.5 8,18 8,20.5 L8,24 C8,27.5 8.5,29.5 13,29.5" fill="none" stroke="#f07a18" stroke-width="3.6" stroke-linecap="round" stroke-linejoin="round"/><path d="M27,2.5 C31.5,2.5 32,4.5 32,8 L32,11.5 C32,14 33.5,15.5 37,16 C33.5,16.5 32,18 32,20.5 L32,24 C32,27.5 31.5,29.5 27,29.5" fill="none" stroke="#4234c8" stroke-width="3.6" stroke-linecap="round" stroke-linejoin="round"/><circle cx="16.5" cy="20" r="1.9" fill="#2d2594"/><circle cx="23.5" cy="20" r="1.9" fill="#2d2594"/></svg>
<div class="t" style="left:1303.50px;top:993.72px;font-size:27.50px;letter-spacing:0.475px;font-weight:400;color:#989ea4;-webkit-text-stroke:0.94px #989ea4;">Not Triggered</div>
<div style="position:absolute;left:1303.0px;top:1052.0px;width:348.0px;height:64.0px;box-sizing:border-box;border:2px solid #d2d3d5;border-radius:10px;background:#fff"></div>
<div class="t" style="left:1396.40px;top:1069.42px;font-size:27.50px;letter-spacing:-0.045px;font-weight:400;color:#3b444c;-webkit-text-stroke:0.94px #3b444c;">Select Image</div>
<div style="position:absolute;left:1679.0px;top:1005.0px;width:132.0px;height:4.0px;box-sizing:border-box;background:#8d939b"></div>
<svg style="position:absolute;left:1755.0px;top:985.0px;" width="46" height="44" viewBox="0 0 46 44"><path d="M44,22 L2,1 L22.5,22 L1.5,43.5 Z" fill="#515963"/></svg>
<div style="position:absolute;left:1811.0px;top:869.0px;width:440.0px;height:276.0px;box-sizing:border-box;border:2px solid #d0d1d4;border-radius:16px;background:#fff"></div>
<div style="position:absolute;left:1811px;top:869px;width:35px;height:276px;background:#a5a8c1;border-radius:16px 0 0 16px"></div>
<div class="t" style="left:1782.50px;top:994.40px;width:95.60px;height:24.40px;font-size:24.40px;letter-spacing:-2.020px;font-weight:700;color:#fff;text-align:left;transform:rotate(-90deg);transform-origin:center center;line-height:23.67px">MANUAL</div>
<div class="t" style="left:1875.90px;top:901.83px;font-size:23.00px;letter-spacing:-0.279px;font-weight:400;color:#3b444c;">Deploy: Rolling</div>
<div class="t" style="left:1875.90px;top:936.92px;font-size:27.50px;letter-spacing:0.478px;font-weight:400;color:#000a14;-webkit-text-stroke:0.94px #000a14;">banking-qa</div>
<svg style="position:absolute;left:2160.0px;top:904.0px;" width="65" height="60" viewBox="0 0 65 60"><defs><radialGradient id="fl" cx="0.68" cy="0.35" r="0.7"><stop offset="0" stop-color="#ffd21f"/><stop offset="0.35" stop-color="#ff9a2a"/><stop offset="0.7" stop-color="#f0463f"/><stop offset="1" stop-color="#e42a48"/></radialGradient></defs><path d="M20,36 C24,27 33,17 44.5,10.5 L53.6,9 L52.3,18.8 C46,30 36,39 27.5,43 Z" fill="#fbfcfd" stroke="#e9edf2" stroke-width="0.8"/><path d="M44.4,10.6 L53.6,9 L52.3,18.8 Z" fill="#8ea7c3"/><circle cx="39" cy="23.9" r="5" fill="#1162c9"/><path d="M38.2,20.6 L40.6,21.2 L39.2,24 L41.2,24.6 L38.4,27.6 L38.8,24.8 L37,24.4 Z" fill="#eaf3ff"/><path d="M16.8,23.7 C20.5,17.5 25.5,14.6 31.5,16.4 C26.5,18.2 23,22.2 20.4,27.8 Z" fill="#1565c8"/><path d="M35.6,42.5 C41,38.6 45,35.5 47,31.5 C49,37.5 46.5,43 39.6,46.2 Z" fill="#1565c8"/><line x1="19" y1="35" x2="30.5" y2="45.2" stroke="#9dafc2" stroke-width="5.6"/><path d="M10.2,50.3 C10.8,44.5 13.5,40.2 19.2,37.4 L27.4,45.4 C24.8,50 19.5,51.8 10.2,50.3 Z" fill="url(#fl)"/></svg>
<div class="t" style="left:1875.90px;top:993.22px;font-size:27.50px;letter-spacing:0.436px;font-weight:400;color:#989ea4;-webkit-text-stroke:0.94px #989ea4;">Not Deployed</div>
<div style="position:absolute;left:1875.0px;top:1051.0px;width:87.0px;height:65.0px;box-sizing:border-box;border:2px solid #d2d3d5;border-radius:10px;background:#fff"></div>
<svg style="position:absolute;left:1900.0px;top:1066.0px;" width="40" height="38" viewBox="0 0 40 38"><g fill="#515963"><rect x="3" y="4.5" width="14" height="8" rx="1.2"/><rect x="3" y="16.5" width="14" height="8" rx="1.2"/><rect x="3" y="28" width="14" height="8" rx="1.2"/></g><path d="M24,3.5 C32,5.5 35,13 32,20 C30.5,24 27.5,26.5 24,27.5" fill="none" stroke="#515963" stroke-width="2.6" stroke-linecap="round"/><path d="M29.5,29.5 L22.5,28 L25.5,21.5" fill="none" stroke="#515963" stroke-width="2.6" stroke-linecap="round" stroke-linejoin="round"/></svg>
<div style="position:absolute;left:1980.0px;top:1051.0px;width:243.0px;height:65.0px;box-sizing:border-box;border:2px solid #d2d3d5;border-radius:10px;background:#fff"></div>
<div class="t" style="left:2021.60px;top:1069.42px;font-size:27.50px;letter-spacing:-0.100px;font-weight:400;color:#3b444c;-webkit-text-stroke:0.94px #3b444c;">Select Image</div>
<div style="position:absolute;left:55px;top:1251px;width:32px;height:32px;border-radius:7px;background:#0f6ad6"></div>
<svg style="position:absolute;left:55.0px;top:1251.0px;" width="32" height="32" viewBox="0 0 32 32"><polyline points="6.6,16.4 13.6,22.9 25.6,10.4" fill="none" stroke="#fff" stroke-width="4.3" stroke-linecap="round" stroke-linejoin="round"/></svg>
<div class="t" style="left:113.70px;top:1252.30px;font-size:30.00px;letter-spacing:0.782px;font-weight:400;color:#000a14;-webkit-text-stroke:1.02px #000a14;">arpit-test-6</div>
<div style="position:absolute;left:49.0px;top:1299.0px;width:2777.0px;height:399.0px;box-sizing:border-box;border:2px solid #b7c9e0;border-radius:8px;background:#f8f9fc"></div>
<div style="position:absolute;left:95.0px;top:1354.0px;width:440.0px;height:140.0px;box-sizing:border-box;border:2px solid #d0d1d4;border-radius:16px;background:#fff"></div>
<svg style="position:absolute;left:127.5px;top:1405.8px;" width="35.5" height="35.5" viewBox="0 0 24 24"><path fill="#f05133" d="M23.546 10.93L13.067.452c-.604-.603-1.582-.603-2.188 0L8.708 2.627l2.76 2.76c.645-.215 1.379-.07 1.889.441.516.515.658 1.258.438 1.9l2.658 2.66c.645-.223 1.387-.078 1.9.435.721.72.721 1.884 0 2.604-.719.719-1.881.719-2.6 0-.539-.541-.674-1.337-.404-1.996L12.86 8.955v6.525c.176.086.342.203.488.348.713.721.713 1.883 0 2.6-.719.721-1.889.721-2.609 0-.719-.719-.719-1.879 0-2.598.182-.18.387-.316.605-.406V8.835c-.217-.091-.424-.222-.6-.401-.545-.545-.676-1.342-.396-2.009L7.636 3.7.45 10.881c-.6.605-.6 1.584 0 2.189l10.48 10.477c.604.604 1.582.604 2.186 0l10.43-10.43c.605-.603.605-1.582 0-2.187"/></svg>
<div class="t" style="left:193.70px;top:1388.52px;font-size:27.50px;letter-spacing:1.675px;font-weight:400;color:#000a14;-webkit-text-stroke:0.94px #000a14;">/test</div>
<svg style="position:absolute;left:195.0px;top:1434.0px;" width="25" height="25" viewBox="0 0 25 25"><g fill="none" stroke="#515963" stroke-width="2.2" stroke-linecap="round"><circle cx="5.8" cy="5.8" r="2.7"/><circle cx="18.6" cy="5.8" r="2.7"/><circle cx="6" cy="18.6" r="2.7"/><line x1="5.9" y1="8.5" x2="5.9" y2="15.9"/><path d="M18.4,8.5 C18.4,11.2 17.2,12.6 14.4,12.6 L9.6,12.6 C7.4,12.6 6,13.2 5.9,14.6"/></g></svg>
<div class="t" style="left:230.80px;top:1432.69px;font-size:28.00px;letter-spacing:-0.500px;font-weight:400;color:#000a14;-webkit-text-stroke:0.3px #000a14;">main</div>
<svg style="position:absolute;left:302.0px;top:1435.0px;" width="24" height="24" viewBox="0 0 24 24"><circle cx="12" cy="11.5" r="9.6" fill="none" stroke="#6e757c" stroke-width="2"/><line x1="12" y1="10.3" x2="12" y2="16" stroke="#6e757c" stroke-width="2.2" stroke-linecap="round"/><circle cx="12" cy="6.9" r="1.4" fill="#6e757c"/></svg>
<div style="position:absolute;left:535.0px;top:1422.0px;width:132.0px;height:4.0px;box-sizing:border-box;background:#8d939b"></div>
<svg style="position:absolute;left:611.0px;top:1402.0px;" width="46" height="44" viewBox="0 0 46 44"><path d="M44,22 L2,1 L22.5,22 L1.5,43.5 Z" fill="#515963"/></svg>
<div style="position:absolute;left:667.0px;top:1354.0px;width:440.0px;height:276.0px;box-sizing:border-box;border:2px solid #d0d1d4;border-radius:16px;background:#fff"></div>
<div style="position:absolute;left:667px;top:1354px;width:35px;height:276px;background:#a5a8c1;border-radius:16px 0 0 16px"></div>
<div class="t" style="left:638.50px;top:1479.40px;width:95.60px;height:24.40px;font-size:24.40px;letter-spacing:-2.020px;font-weight:700;color:#fff;text-align:left;transform:rotate(-90deg);transform-origin:center center;line-height:23.67px">MANUAL</div>
<div class="t" style="left:731.80px;top:1386.53px;font-size:23.00px;letter-spacing:-0.275px;font-weight:400;color:#3b444c;">Build</div>
<div class="t" style="left:731.80px;top:1421.12px;font-size:27.50px;letter-spacing:0.000px;font-weight:400;color:#000a14;-webkit-text-stroke:0.94px #000a14;">ci-7700-wpqg</div>
<svg style="position:absolute;left:1020.0px;top:1394.0px;" width="55" height="50" viewBox="0 0 55 50"><g stroke-linecap="round"><line x1="16.5" y1="39" x2="36" y2="19.5" stroke="#7f8c98" stroke-width="6.6"/><circle cx="16" cy="39.8" r="4.8" fill="#7f8c98"/><circle cx="15.8" cy="40" r="1.9" fill="#fff"/><circle cx="38" cy="17.2" r="8.2" fill="#7f8c98"/><path d="M37.6,16.6 L41.5,7.2 L48.5,14.2 L39,18 Z" fill="#fff"/><line x1="19.8" y1="19.4" x2="42.5" y2="40.5" stroke="#f39b1f" stroke-width="7.6" stroke-linecap="butt"/><path d="M7.6,20.6 L19.2,9 C21.5,7.6 25.5,7.4 28.6,9.2 C25.6,9.6 23.8,10.6 22.6,12.4 L25.4,15.2 L14,26.6 L12.8,25.4 L11.2,26.2 Z" fill="#5a6773"/></g></svg>
<div class="t" style="left:732.00px;top:1478.72px;font-size:27.50px;letter-spacing:0.475px;font-weight:400;color:#989ea4;-webkit-text-stroke:0.94px #989ea4;">Not Triggered</div>
<div style="position:absolute;left:731.0px;top:1527.0px;width:348.0px;height:66.0px;box-sizing:border-box;border:2px solid #d2d3d5;border-radius:10px;background:#fff"></div>
<div class="t" style="left:810.60px;top:1546.32px;font-size:27.50px;letter-spacing:0.393px;font-weight:400;color:#3b444c;-webkit-text-stroke:0.94px #3b444c;">Select Material</div>
<div style="position:absolute;left:1107.0px;top:1490.0px;width:132.0px;height:4.0px;box-sizing:border-box;background:#8d939b"></div>
<svg style="position:absolute;left:1183.0px;top:1470.0px;" width="46" height="44" viewBox="0 0 46 44"><path d="M44,22 L2,1 L22.5,22 L1.5,43.5 Z" fill="#515963"/></svg>
<div style="position:absolute;left:1239.0px;top:1354.0px;width:440.0px;height:276.0px;box-sizing:border-box;border:2px solid #d0d1d4;border-radius:16px;background:#fff"></div>
<div style="position:absolute;left:1239px;top:1354px;width:35px;height:276px;background:#a5a8c1;border-radius:16px 0 0 16px"></div>
<div class="t" style="left:1227.80px;top:1480.80px;width:61.00px;height:24.40px;font-size:24.40px;letter-spacing:-2.567px;font-weight:700;color:#fff;text-align:left;transform:rotate(-90deg);transform-origin:center center;line-height:23.67px">AUTO</div>
<div class="t" style="left:1303.00px;top:1386.63px;font-size:23.00px;letter-spacing:-1.175px;font-weight:400;color:#3b444c;">Stage</div>
<div class="t" style="left:1303.50px;top:1421.32px;font-size:27.50px;letter-spacing:0.692px;font-weight:400;color:#000a14;-webkit-text-stroke:0.94px #000a14;">Pre-deployment</div>
<svg style="position:absolute;left:1600.0px;top:1404.0px;" width="40" height="32" viewBox="0 0 40 32"><path d="M13,2.5 C8.5,2.5 8,4.5 8,8 L8,11.5 C8,14 6.5,15.5 3,16 C6.5,16.5 8,18 8,20.5 L8,24 C8,27.5 8.5,29.5 13,29.5" fill="none" stroke="#f07a18" stroke-width="3.6" stroke-linecap="round" stroke-linejoin="round"/><path d="M27,2.5 C31.5,2.5 32,4.5 32,8 L32,11.5 C32,14 33.5,15.5 37,16 C33.5,16.5 32,18 32,20.5 L32,24 C32,27.5 31.5,29.5 27,29.5" fill="none" stroke="#4234c8" stroke-width="3.6" stroke-linecap="round" stroke-linejoin="round"/><circle cx="16.5" cy="20" r="1.9" fill="#2d2594"/><circle cx="23.5" cy="20" r="1.9" fill="#2d2594"/></svg>
<div class="t" style="left:1303.50px;top:1478.72px;font-size:27.50px;letter-spacing:0.475px;font-weight:400;color:#989ea4;-webkit-text-stroke:0.94px #989ea4;">Not Triggered</div>
<div style="position:absolute;left:1303.0px;top:1537.0px;width:348.0px;height:64.0px;box-sizing:border-box;border:2px solid #d2d3d5;border-radius:10px;background:#fff"></div>
<div class="t" style="left:1396.40px;top:1554.42px;font-size:27.50px;letter-spacing:-0.045px;font-weight:400;color:#3b444c;-webkit-text-stroke:0.94px #3b444c;">Select Image</div>
<div style="position:absolute;left:1679.0px;top:1490.0px;width:132.0px;height:4.0px;box-sizing:border-box;background:#8d939b"></div>
<svg style="position:absolute;left:1755.0px;top:1470.0px;" width="46" height="44" viewBox="0 0 46 44"><path d="M44,22 L2,1 L22.5,22 L1.5,43.5 Z" fill="#515963"/></svg>
<div style="position:absolute;left:1811.0px;top:1354.0px;width:440.0px;height:276.0px;box-sizing:border-box;border:2px solid #d0d1d4;border-radius:16px;background:#fff"></div>
<div style="position:absolute;left:1811px;top:1354px;width:35px;height:276px;background:#a5a8c1;border-radius:16px 0 0 16px"></div>
<div class="t" style="left:1782.50px;top:1479.40px;width:95.60px;height:24.40px;font-size:24.40px;letter-spacing:-2.020px;font-weight:700;color:#fff;text-align:left;transform:rotate(-90deg);transform-origin:center center;line-height:23.67px">MANUAL</div>
<div class="t" style="left:1875.90px;top:1386.83px;font-size:23.00px;letter-spacing:-0.279px;font-weight:400;color:#3b444c;">Deploy: Rolling</div>
<div class="t" style="left:1875.90px;top:1421.92px;font-size:27.50px;letter-spacing:0.478px;font-weight:400;color:#000a14;-webkit-text-stroke:0.94px #000a14;">banking-qa</div>
<svg style="position:absolute;left:2160.0px;top:1389.0px;" width="65" height="60" viewBox="0 0 65 60"><defs><radialGradient id="fl" cx="0.68" cy="0.35" r="0.7"><stop offset="0" stop-color="#ffd21f"/><stop offset="0.35" stop-color="#ff9a2a"/><stop offset="0.7" stop-color="#f0463f"/><stop offset="1" stop-color="#e42a48"/></radialGradient></defs><path d="M20,36 C24,27 33,17 44.5,10.5 L53.6,9 L52.3,18.8 C46,30 36,39 27.5,43 Z" fill="#fbfcfd" stroke="#e9edf2" stroke-width="0.8"/><path d="M44.4,10.6 L53.6,9 L52.3,18.8 Z" fill="#8ea7c3"/><circle cx="39" cy="23.9" r="5" fill="#1162c9"/><path d="M38.2,20.6 L40.6,21.2 L39.2,24 L41.2,24.6 L38.4,27.6 L38.8,24.8 L37,24.4 Z" fill="#eaf3ff"/><path d="M16.8,23.7 C20.5,17.5 25.5,14.6 31.5,16.4 C26.5,18.2 23,22.2 20.4,27.8 Z" fill="#1565c8"/><path d="M35.6,42.5 C41,38.6 45,35.5 47,31.5 C49,37.5 46.5,43 39.6,46.2 Z" fill="#1565c8"/><line x1="19" y1="35" x2="30.5" y2="45.2" stroke="#9dafc2" stroke-width="5.6"/><path d="M10.2,50.3 C10.8,44.5 13.5,40.2 19.2,37.4 L27.4,45.4 C24.8,50 19.5,51.8 10.2,50.3 Z" fill="url(#fl)"/></svg>
<div class="t" style="left:1875.90px;top:1478.22px;font-size:27.50px;letter-spacing:0.436px;font-weight:400;color:#989ea4;-webkit-text-stroke:0.94px #989ea4;">Not Deployed</div>
<div style="position:absolute;left:1875.0px;top:1536.0px;width:87.0px;height:65.0px;box-sizing:border-box;border:2px solid #d2d3d5;border-radius:10px;background:#fff"></div>
<svg style="position:absolute;left:1900.0px;top:1551.0px;" width="40" height="38" viewBox="0 0 40 38"><g fill="#515963"><rect x="3" y="4.5" width="14" height="8" rx="1.2"/><rect x="3" y="16.5" width="14" height="8" rx="1.2"/><rect x="3" y="28" width="14" height="8" rx="1.2"/></g><path d="M24,3.5 C32,5.5 35,13 32,20 C30.5,24 27.5,26.5 24,27.5" fill="none" stroke="#515963" stroke-width="2.6" stroke-linecap="round"/><path d="M29.5,29.5 L22.5,28 L25.5,21.5" fill="none" stroke="#515963" stroke-width="2.6" stroke-linecap="round" stroke-linejoin="round"/></svg>
<div style="position:absolute;left:1980.0px;top:1536.0px;width:243.0px;height:65.0px;box-sizing:border-box;border:2px solid #d2d3d5;border-radius:10px;background:#fff"></div>
<div class="t" style="left:2021.60px;top:1554.42px;font-size:27.50px;letter-spacing:-0.100px;font-weight:400;color:#3b444c;-webkit-text-stroke:0.94px #3b444c;">Select Image</div>
<div style="position:absolute;left:0.0px;top:1477.0px;width:2864.0px;height:191.0px;box-sizing:border-box;background:#fff"></div>
<div style="position:absolute;left:0.0px;top:1477.0px;width:2864.0px;height:2.0px;box-sizing:border-box;background:#d3d6da"></div>
<svg style="position:absolute;left:54.0px;top:1562.0px;" width="30" height="30" viewBox="0 0 30 30"><g stroke="#d33b42" stroke-width="3.2" stroke-linecap="round"><line x1="3" y1="3" x2="27" y2="27"/><line x1="27" y1="3" x2="3" y2="27"/></g></svg>
<div class="t" style="left:125.70px;top:1514.60px;font-size:30.00px;letter-spacing:0.270px;font-weight:400;color:#000a14;-webkit-text-stroke:1.02px #000a14;">15 applications selected</div>
<div style="position:absolute;left:114px;top:1556px;width:1408px;height:94px;background:linear-gradient(90deg,rgba(243,243,245,0.6) 0,#f2f2f4 12px,#f2f2f4 1370px,rgba(248,248,249,0.5) 1408px);overflow:hidden"><div style="position:absolute;left:0;top:0;width:1408px;height:94px;filter:blur(8px)"><div style="position:absolute;left:10px;top:16px;width:190px;height:18px;background:#e9e9ec;border-radius:6px"></div><div style="position:absolute;left:215px;top:16px;width:205px;height:18px;background:#e9e9ec;border-radius:6px"></div><div style="position:absolute;left:440px;top:16px;width:120px;height:18px;background:#e9e9ec;border-radius:6px"></div><div style="position:absolute;left:600px;top:16px;width:220px;height:18px;background:#e9e9ec;border-radius:6px"></div><div style="position:absolute;left:850px;top:16px;width:210px;height:18px;background:#e9e9ec;border-radius:6px"></div><div style="position:absolute;left:1075px;top:16px;width:165px;height:18px;background:#e9e9ec;border-radius:6px"></div><div style="position:absolute;left:1260px;top:16px;width:140px;height:18px;background:#e9e9ec;border-radius:6px"></div><div style="position:absolute;left:10px;top:61px;width:140px;height:18px;background:#eaeaed;border-radius:6px"></div><div style="position:absolute;left:165px;top:61px;width:135px;height:18px;background:#eaeaed;border-radius:6px"></div><div style="position:absolute;left:320px;top:61px;width:160px;height:18px;background:#eaeaed;border-radius:6px"></div><div style="position:absolute;left:500px;top:61px;width:200px;height:18px;background:#eaeaed;border-radius:6px"></div><div style="position:absolute;left:720px;top:61px;width:180px;height:18px;background:#eaeaed;border-radius:6px"></div><div style="position:absolute;left:930px;top:61px;width:190px;height:18px;background:#eaeaed;border-radius:6px"></div><div style="position:absolute;left:1140px;top:61px;width:160px;height:18px;background:#eaeaed;border-radius:6px"></div><div style="position:absolute;left:1320px;top:61px;width:80px;height:18px;background:#eaeaed;border-radius:6px"></div></div></div>
<div style="position:absolute;left:1541.0px;top:1542.0px;width:348.0px;height:69.0px;box-sizing:border-box;border:2px solid #d2d3d5;border-radius:10px;background:#fff"></div>
<div class="t" style="left:1568.00px;top:1563.02px;font-size:29.50px;letter-spacing:-0.039px;font-weight:400;color:#3b444c;-webkit-text-stroke:1.00px #3b444c;">Change Image Source</div>
<div style="position:absolute;left:1917.0px;top:1542.0px;width:313.0px;height:69.0px;box-sizing:border-box;border:2px solid #d2d3d5;border-radius:10px;background:#fff"></div>
<svg style="position:absolute;left:1944.0px;top:1560.0px;" width="34" height="34" viewBox="0 0 34 34"><path d="M21.5,6 L27.5,12 L12.5,27 L5.5,28.5 Q4.5,28.7 4.7,27.7 L6.2,20.8 Z" fill="none" stroke="#3b444c" stroke-width="2.6" stroke-linejoin="round"/><line x1="17.5" y1="10" x2="23.5" y2="16" stroke="#3b444c" stroke-width="2.6"/><path d="M21.5,6 L24,3.5 Q25,2.6 26,3.5 L30,7.5 Q30.9,8.5 30,9.5 L27.5,12" fill="none" stroke="#3b444c" stroke-width="2.6" stroke-linejoin="round"/></svg>
<div class="t" style="left:1996.80px;top:1563.02px;font-size:29.50px;letter-spacing:0.117px;font-weight:400;color:#3b444c;-webkit-text-stroke:1.00px #3b444c;">Change Branch</div>
<div style="position:absolute;left:2257.0px;top:1556.0px;width:2.0px;height:43.0px;box-sizing:border-box;background:#d3d6da"></div>
<div style="position:absolute;left:2286.0px;top:1542.0px;width:215.0px;height:70.0px;box-sizing:border-box;background:#0a66cf;border-radius:12px"></div>
<div class="t" style="left:2313.00px;top:1563.00px;font-size:30.00px;letter-spacing:0.260px;font-weight:400;color:#fff;-webkit-text-stroke:1.02px #fff;">Build Image</div>
<div style="position:absolute;left:2527.0px;top:1541.0px;width:297.0px;height:71.0px;box-sizing:border-box;background:#0a66cf;border-radius:12px"></div>
<div style="position:absolute;left:2742.0px;top:1541.0px;width:2.0px;height:71.0px;box-sizing:border-box;background:#3f86db"></div>
<svg style="position:absolute;left:2560.0px;top:1555.0px;" width="45" height="43" viewBox="0 0 45 43"><g fill="none" stroke="#fff" stroke-width="2.5" stroke-linejoin="round" stroke-linecap="round"><path d="M35.6,8.7 C30.2,9 25.2,12 20.8,17.2 L17.4,21.5 L22.9,27 L27.2,23.9 C32.6,19.6 35.4,14.4 35.6,8.7 Z"/><path d="M23.2,13.1 L14.3,13.9 L8.8,19.4 L17.4,21.5"/><path d="M30.6,20.6 L30.2,28.6 L25.3,33.6 L22.9,27"/><path d="M16.6,25.6 C12.8,26.4 10.2,29.6 9.6,33.6 C13.6,33.2 16.8,31.2 18.2,27.6"/></g></svg>
<div class="t" style="left:2619.00px;top:1561.90px;font-size:30.00px;letter-spacing:-1.220px;font-weight:400;color:#fff;-webkit-text-stroke:1.02px #fff;">Deploy</div>
<svg style="position:absolute;left:2770.0px;top:1566.0px;" width="30" height="22" viewBox="0 0 30 22"><polyline points="4,5.5 15,16 26,5.5" fill="none" stroke="#fff" stroke-width="3.6" stroke-linecap="round" stroke-linejoin="round"/></svg>
<div style="position:absolute;left:2738.5px;top:1538.5px;width:89.0px;height:77.0px;box-sizing:border-box;border:4.5px solid #d2101d"></div>
<div style="position:absolute;left:2389.5px;top:1228.0px;width:453.0px;height:295.0px;box-sizing:border-box;border:2px solid #d7dadd;border-radius:12px;background:#fff;box-shadow:0 4px 6px rgba(0,0,0,0.18)"></div>
<div class="t" style="left:2413.50px;top:1268.88px;font-size:30.50px;letter-spacing:-0.356px;font-weight:400;color:#3b444c;">Trigger Pre-deployment stage</div>
<div class="t" style="left:2413.50px;top:1361.18px;font-size:30.50px;letter-spacing:-0.200px;font-weight:400;color:#3b444c;">Trigger Deployment</div>
<div class="t" style="left:2413.50px;top:1452.38px;font-size:30.50px;letter-spacing:-0.371px;font-weight:400;color:#3b444c;">Trigger Post-deployment stage</div>
<div style="position:absolute;left:2382.0px;top:1220.5px;width:469.5px;height:311.5px;box-sizing:border-box;border:4.5px solid #d2101d"></div>
<svg style="position:absolute;left:2218.5px;top:1514.5px;" width="32" height="42" viewBox="0 0 32 42"><path d="M5.0,5.0 L5.0,29.3 L10.6,24.0 L14.9,35.2 L19.9,33.1 L15.6,22.7 L22.9,22.3 Z" fill="#000" stroke="#fff" stroke-width="2.4" stroke-linejoin="round" style="filter:drop-shadow(1px 2px 1.5px rgba(0,0,0,0.3))"/></svg>
<div style="position:absolute;left:0.0px;top:0.0px;width:2864.0px;height:2.0px;box-sizing:border-box;background:#a9a9a9"></div>
<div style="position:absolute;left:0.0px;top:0.0px;width:2.0px;height:1668.0px;box-sizing:border-box;background:linear-gradient(180deg,#a9a9a9 0,#a4a4ae 40%,#9a9ab8 100%)"></div>
<div style="position:absolute;left:2px;top:2px;width:3px;height:1666px;background:linear-gradient(180deg,#000 0,#03031a 35%,#0b0f5e 60%,#12279c 85%,#1434a8 96%,#2aa0d6 97.5%,#2aa0d6 100%)"></div>
<div style="position:absolute;left:2862.0px;top:0.0px;width:2.0px;height:1668.0px;box-sizing:border-box;background:#a5a5a5"></div>
<div style="position:absolute;left:0.0px;top:1666.0px;width:2864.0px;height:2.0px;box-sizing:border-box;background:#a5a5a5"></div>
</body></html>
